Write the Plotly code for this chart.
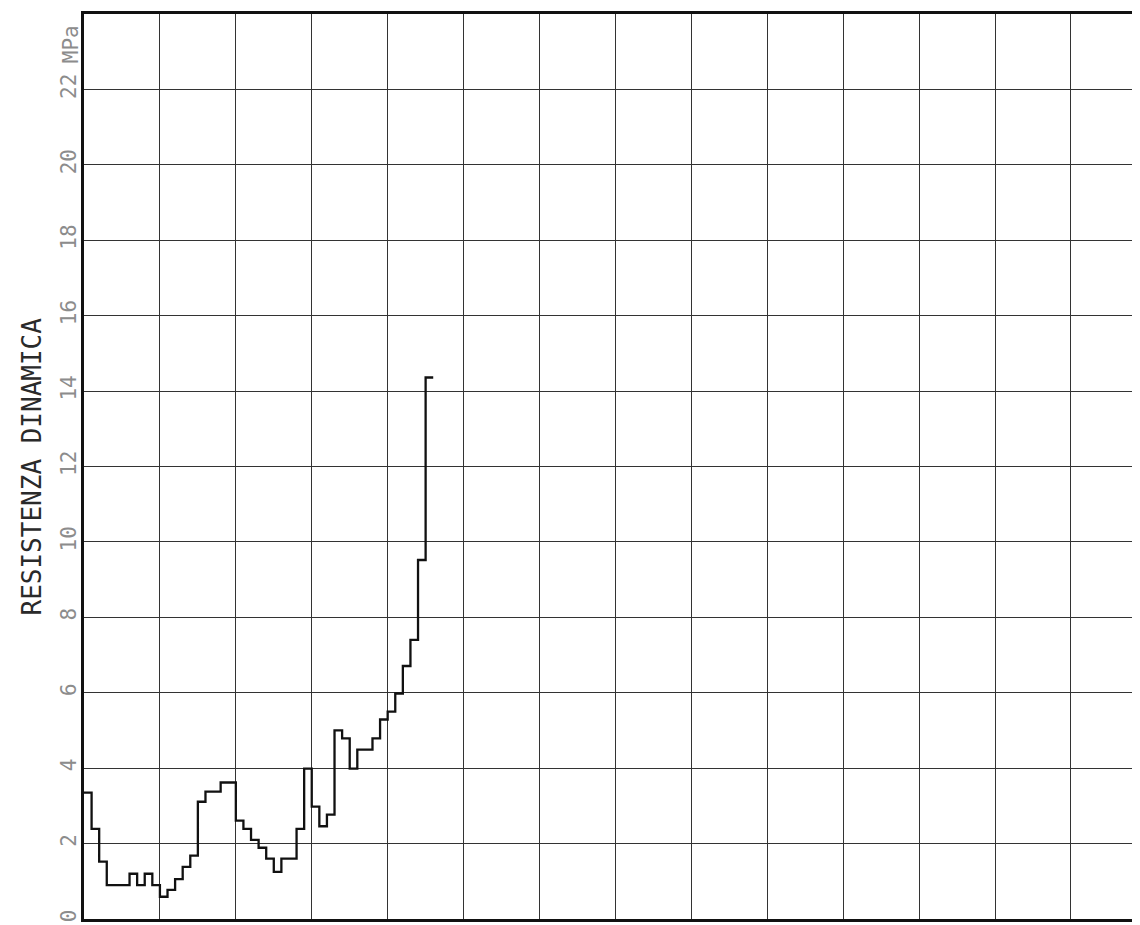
import plotly.graph_objects as go

# prova penetrometrica: profondità (m) e resistenza dinamica (MPa), passo 0.1 m
profondita = [0.0, 0.1, 0.2, 0.3, 0.4, 0.5, 0.6, 0.7, 0.8, 0.9,
              1.0, 1.1, 1.2, 1.3, 1.4, 1.5, 1.6, 1.7, 1.8, 1.9,
              2.0, 2.1, 2.2, 2.3, 2.4, 2.5, 2.6, 2.7, 2.8, 2.9,
              3.0, 3.1, 3.2, 3.3, 3.4, 3.5, 3.6, 3.7, 3.8, 3.9,
              4.0, 4.1, 4.2, 4.3, 4.4, 4.5]
resistenza = [3.35, 2.39, 1.52, 0.90, 0.90, 0.90, 1.20, 0.90, 1.20, 0.90,
              0.59, 0.77, 1.06, 1.38, 1.68, 3.11, 3.38, 3.38, 3.62, 3.62,
              2.61, 2.39, 2.10, 1.89, 1.60, 1.25, 1.60, 1.60, 2.39, 3.99,
              2.98, 2.46, 2.77, 5.00, 4.79, 3.99, 4.49, 4.49, 4.79, 5.29,
              5.50, 5.98, 6.71, 7.40, 9.52, 14.36]
passo = 0.1

tick_valori = [0, 2, 4, 6, 8, 10, 12, 14, 16, 18, 20, 22]
tick_testi = [str(v) for v in tick_valori]

# l'ultimo gradino va chiuso a fine intervallo
x = profondita + [profondita[-1] + passo]
y = resistenza + [resistenza[-1]]

fig = go.Figure()
fig.add_trace(go.Scatter(x=x, y=y, mode="lines", line_shape="hv",
                         line=dict(color="#111111", width=2.3),
                         showlegend=False, hoverinfo="skip"))

# la pagina html ha 8px di margine: figura più piccola per stare nella finestra
fig.update_layout(
    width=1132, height=917,
    margin=dict(l=76, r=0, t=6, b=6),
    plot_bgcolor="white", paper_bgcolor="white",
    font=dict(family="DejaVu Sans Mono", color="#8c8c8c"),
    showlegend=False,
)

fig.update_xaxes(range=[0, 13.91], dtick=1, tick0=0,
                 showgrid=True, gridcolor="#333333", gridwidth=1,
                 showticklabels=False, zeroline=False,
                 showline=True, linecolor="#111111", linewidth=2.5, mirror=True)
fig.update_yaxes(range=[0, 24], tickvals=tick_valori, ticktext=tick_testi,
                 tickangle=-90, tickfont=dict(size=21, color="#8c8c8c"),
                 showgrid=True, gridcolor="#333333", gridwidth=1,
                 zeroline=False, ticks="", ticklabelstandoff=-3,
                 showline=True, linecolor="#111111", linewidth=2.5)

fig.add_annotation(text="MPa", xref="paper", yref="y", x=-13 / 1056, y=23.2,
                   textangle=-90, showarrow=False, xanchor="center",
                   font=dict(family="DejaVu Sans Mono", size=21, color="#8c8c8c"))
fig.add_annotation(text="RESISTENZA DINAMICA", xref="paper", yref="paper",
                   x=-53 / 1056, y=0.5, textangle=-90, showarrow=False,
                   xanchor="center", yanchor="middle",
                   font=dict(family="DejaVu Sans Mono", size=26, color="#2a2a2a"))

fig.write_html("out.html")
